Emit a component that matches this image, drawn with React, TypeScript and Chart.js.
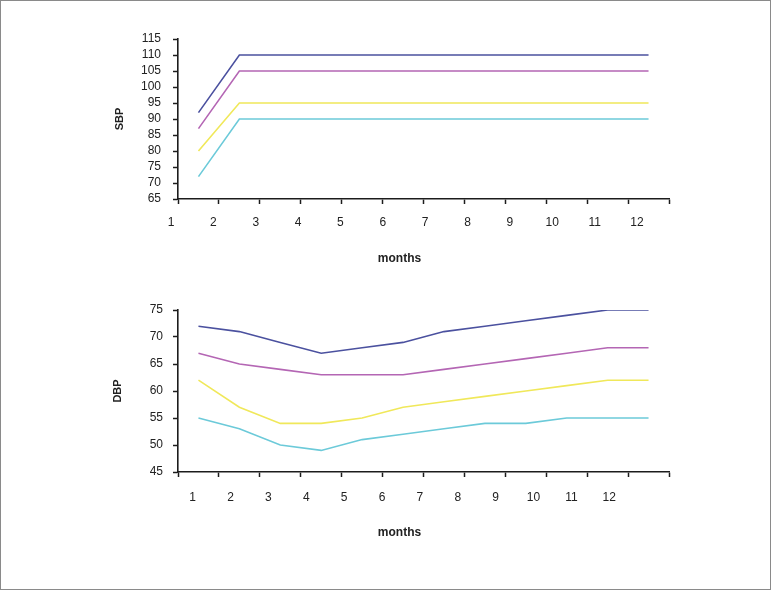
import React, { useEffect, useRef } from 'react';
import { Chart, registerables } from 'chart.js';

Chart.register(...registerables);

// ---- data ----
const months = ['1', '2', '3', '4', '5', '6', '7', '8', '9', '10', '11', '12'];

const sbpBlue = [92, 110, 110, 110, 110, 110, 110, 110, 110, 110, 110, 110];
const sbpPurple = [87, 105, 105, 105, 105, 105, 105, 105, 105, 105, 105, 105];
const sbpYellow = [80, 95, 95, 95, 95, 95, 95, 95, 95, 95, 95, 95];
const sbpCyan = [72, 90, 90, 90, 90, 90, 90, 90, 90, 90, 90, 90];

const dbpBlue = [72, 71, 69, 67, 68, 69, 71, 72, 73, 74, 75, 75];
const dbpPurple = [67, 65, 64, 63, 63, 63, 64, 65, 66, 67, 68, 68];
const dbpYellow = [62, 57, 54, 54, 55, 57, 58, 59, 60, 61, 62, 62];
const dbpCyan = [55, 53, 50, 49, 51, 52, 53, 54, 54, 55, 55, 55];

const seriesColors = ['#4b519f', '#b466b4', '#f0e85a', '#6ccad9'];

const FONT = "'Liberation Sans', Arial, Helvetica, sans-serif";
const AXIS = '#1c1c1c';
const TEXT = '#222222';
const CANVAS_W = 799;

type Layout = {
  height: number;
  padTop: number;
  padBottom: number;
  yWidth: number;
  rightWidth: number;
  yTickPad: number;
  yTickSize: number;
  yTitlePad: number;
  xTickSize: number;
  xLabelMin: number;
  xLabelMax: number;
  xLabelPad: number;
  x2Height: number;
  titlePadTop: number;
  titlePadBottom: number;
};

function buildConfig(values: number[][], yMin: number, yMax: number, yTitle: string, L: Layout): any {
  return {
    type: 'line',
    data: {
      labels: months,
      datasets: values.map((v, i) => ({
        data: v,
        borderColor: seriesColors[i],
        backgroundColor: seriesColors[i],
        borderWidth: 1.6,
        pointRadius: 0,
        tension: 0,
        fill: false,
        xAxisID: 'x',
        yAxisID: 'y',
      })),
    },
    options: {
      responsive: false,
      maintainAspectRatio: false,
      animation: false,
      events: [],
      layout: { padding: { left: 0, right: 0, top: L.padTop, bottom: L.padBottom } },
      plugins: {
        legend: { display: false },
        tooltip: { enabled: false },
        title: {
          display: true,
          position: 'bottom',
          text: 'months',
          color: TEXT,
          font: { family: FONT, size: 12, weight: 'bold' },
          padding: { top: L.titlePadTop, bottom: L.titlePadBottom },
        },
      },
      scales: {
        x: {
          type: 'category',
          position: 'bottom',
          weight: 0,
          offset: true,
          grid: {
            offset: true,
            drawOnChartArea: false,
            color: AXIS,
            tickLength: 5,
            tickWidth: 1.5,
          },
          border: { display: true, color: AXIS, width: 1.6 },
          ticks: { display: false },
          afterFit: (s: any) => {
            s.height = 5;
          },
        },
        x2: {
          type: 'linear',
          position: 'bottom',
          weight: 1,
          min: L.xLabelMin,
          max: L.xLabelMax,
          grid: { display: false, drawTicks: false },
          border: { display: false },
          ticks: {
            autoSkip: false,
            maxRotation: 0,
            padding: L.xLabelPad,
            color: TEXT,
            font: { family: FONT, size: L.xTickSize },
            callback: (v: any) => months[Number(v) - 1] ?? '',
          },
          afterBuildTicks: (s: any) => {
            s.ticks = months.map((_, i) => ({ value: i + 1 }));
          },
          afterFit: (s: any) => {
            s.height = L.x2Height;
          },
        },
        y: {
          type: 'linear',
          position: 'left',
          min: yMin,
          max: yMax,
          grid: {
            drawOnChartArea: false,
            color: AXIS,
            tickLength: 5,
            tickWidth: 1.5,
          },
          border: { display: true, color: AXIS, width: 1.6 },
          ticks: {
            stepSize: 5,
            autoSkip: false,
            padding: L.yTickPad,
            color: TEXT,
            font: { family: FONT, size: L.yTickSize },
          },
          title: {
            display: true,
            text: yTitle,
            color: TEXT,
            font: { family: FONT, size: 11, weight: 'bold' },
            padding: { top: L.yTitlePad, bottom: 0 },
          },
          afterFit: (s: any) => {
            s.width = L.yWidth;
          },
        },
        // empty spacer on the right so the bottom title sits where the original has it
        yRight: {
          type: 'linear',
          position: 'right',
          grid: { display: false, drawTicks: false },
          border: { display: false },
          ticks: { display: false },
          afterFit: (s: any) => {
            s.width = L.rightWidth;
          },
        },
      },
    },
  };
}

const topLayout: Layout = {
  height: 280,
  padTop: 39,
  padBottom: 0,
  yWidth: 178,
  rightWidth: 130,
  yTickPad: 12,
  yTickSize: 12,
  yTitlePad: 113,
  xTickSize: 12,
  xLabelMin: 1.165,
  xLabelMax: 12.756,
  xLabelPad: 11,
  x2Height: 30,
  titlePadTop: 17,
  titlePadBottom: 14.6,
};

const bottomLayout: Layout = {
  height: 310,
  padTop: 30,
  padBottom: 43,
  yWidth: 178,
  rightWidth: 130,
  yTickPad: 10,
  yTickSize: 12,
  yTitlePad: 111,
  xTickSize: 12,
  xLabelMin: 0.612,
  xLabelMax: 13.577,
  xLabelPad: 13,
  x2Height: 30,
  titlePadTop: 18,
  titlePadBottom: 7.6,
};

function LineChart({ config, top, height }: { config: any; top: number; height: number }) {
  const ref = useRef<HTMLCanvasElement>(null);
  useEffect(() => {
    if (!ref.current) return;
    const chart = new Chart(ref.current, config);
    return () => chart.destroy();
  }, [config]);
  return (
    <canvas
      ref={ref}
      width={CANVAS_W}
      height={height}
      style={{ position: 'absolute', left: 0, top, width: CANVAS_W, height, display: 'block' }}
    />
  );
}

const topConfig = buildConfig([sbpBlue, sbpPurple, sbpYellow, sbpCyan], 65, 115, 'SBP', topLayout);
const bottomConfig = buildConfig([dbpBlue, dbpPurple, dbpYellow, dbpCyan], 45, 75, 'DBP', bottomLayout);

export default function App() {
  return (
    <div
      style={{
        position: 'fixed',
        left: 0,
        top: 0,
        width: 771,
        height: 590,
        background: '#ffffff',
        overflow: 'hidden',
      }}
    >
      <LineChart config={topConfig} top={0} height={topLayout.height} />
      <LineChart config={bottomConfig} top={280} height={bottomLayout.height} />
      <div
        style={{
          position: 'absolute',
          left: 0,
          top: 0,
          width: 771,
          height: 590,
          boxSizing: 'border-box',
          border: '1px solid #8a8a8a',
          pointerEvents: 'none',
        }}
      />
    </div>
  );
}
